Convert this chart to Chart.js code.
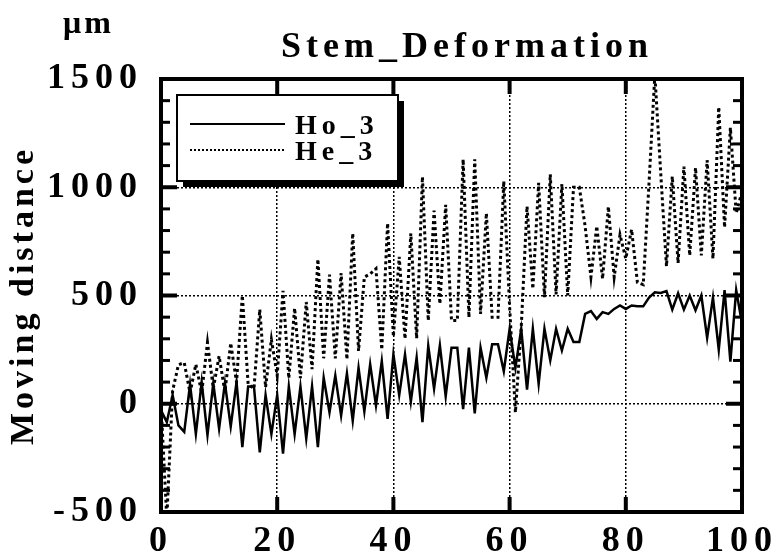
<!DOCTYPE html>
<html>
<head>
<meta charset="utf-8">
<title>Stem_Deformation</title>
<script src="https://cdn.jsdelivr.net/npm/chart.js@4.4.0/dist/chart.umd.min.js"></script>
<style>
  html, body { margin: 0; padding: 0; background: #fff; }
  #wrap { width: 774px; height: 555px; }
</style>
</head>
<body>
<div id="wrap"><canvas id="myChart" width="774" height="555"></canvas></div>
<script>
// dane
const xs = [0, 1, 2, 3, 4, 5, 6, 7, 8, 9, 10, 11, 12, 13, 14, 15, 16, 17, 18, 19,
  20, 21, 22, 23, 24, 25, 26, 27, 28, 29, 30, 31, 32, 33, 34, 35, 36, 37, 38, 39,
  40, 41, 42, 43, 44, 45, 46, 47, 48, 49, 50, 51, 52, 53, 54, 55, 56, 57, 58, 59,
  60, 61, 62, 63, 64, 65, 66, 67, 68, 69, 70, 71, 72, 73, 74, 75, 76, 77, 78, 79,
  80, 81, 82, 83, 84, 85, 86, 87, 88, 89, 90, 91, 92, 93, 94, 95, 96, 97, 98, 99, 100]

const ho3 = [-30, -85, 40, -100, -130, 90, -140, 100, -145, 95,
  -115, 95, -105, 100, -200, 80, 80, -225, 40, -140,
  40, -230, 80, -140, 80, -160, 80, -200, 120, -40,
  130, -55, 140, -78, 166, -35, 182, -8, 197, -70,
  228, 40, 228, 10, 213, -85, 267, 70, 270, 35,
  259, 259, -25, 259, -45, 259, 120, 275, 275, 150,
  345, 166, 345, 65, 346, 92, 346, 200, 346, 246,
  346, 285, 285, 415, 428, 392, 423, 415, 438, 454,
  438, 454, 450, 450, 490, 515, 512, 520, 435, 510,
  435, 500, 432, 500, 305, 490, 250, 525, 195, 525, 370]

const he3 = [0, -530, 60, 180, 190, 50, 182, 50, 283, 70,
  220, 55, 280, 100, 500, 90, 70, 435, 76, 297,
  130, 522, 118, 442, 118, 470, 160, 668, 210, 596,
  210, 604, 205, 787, 244, 585, 600, 624, 250, 834,
  310, 679, 300, 787, 302, 1048, 384, 892, 461, 919,
  384, 384, 1129, 399, 1129, 415, 880, 399, 399, 1028,
  450, -40, 352, 912, 531, 1020, 492, 1060, 505, 1015,
  500, 1000, 1000, 820, 585, 820, 577, 910, 585, 780,
  670, 805, 560, 550, 1020, 1520, 1070, 635, 1050, 650,
  1095, 685, 1090, 685, 1125, 670, 1370, 815, 1275, 880, 980]

const xTicks = [0, 20, 40, 60, 80, 100]
const yTicks = [-500, 0, 500, 1000, 1500]
const yMinorStep = 100

const FONT = "'Liberation Serif', 'Times New Roman', serif"
const TITLE = 'Stem_Deformation'
const UNIT = 'μm'

// odstępy między literami (canvas letterSpacing) osobno dla każdego tekstu
function withSpacing(obj, name, sp) {
  if (!obj || obj['_sp_' + name]) return
  const orig = obj[name]
  obj[name] = function (...args) {
    const c = this.ctx
    const prev = c.letterSpacing
    c.letterSpacing = sp
    const r = orig.apply(this, args)
    c.letterSpacing = prev
    return r
  }
  obj['_sp_' + name] = true
}

const spacing = {
  id: 'spacing',
  afterLayout(chart) {
    withSpacing(chart.scales.y, 'drawLabels', '6px')
    withSpacing(chart.scales.x, 'drawLabels', '6px')
    withSpacing(chart.scales.y, 'drawTitle', '4px')
  }
}

// ramka i kreski podziałki do środka
const frame = {
  id: 'frame',
  afterDatasetsDraw(chart) {
    const {ctx, chartArea: a, scales: {x, y}} = chart
    ctx.save()
    ctx.fillStyle = '#000'
    for (let v = y.min + yMinorStep; v < y.max; v += yMinorStep) {
      const py = y.getPixelForValue(v)
      const major = yTicks.includes(v)
      const len = major ? 16 : 9
      const th = major ? 4 : 3
      ctx.fillRect(a.left, py - th / 2, len, th)
      ctx.fillRect(a.right - len, py - th / 2, len, th)
    }
    xTicks.slice(1, -1).forEach(v => {
      const px = x.getPixelForValue(v)
      ctx.fillRect(px - 2, a.top, 4, 15)
      ctx.fillRect(px - 2, a.bottom - 15, 4, 15)
    })
    ctx.lineWidth = 4
    ctx.strokeStyle = '#000'
    ctx.strokeRect(a.left, a.top, a.right - a.left, a.bottom - a.top)
    ctx.restore()
  }
}

// tytuł, legenda w ramce z cieniem, jednostka
const boxLegend = {
  id: 'boxLegend',
  afterDraw(chart) {
    const {ctx, chartArea: a} = chart
    ctx.save()
    ctx.fillStyle = '#000'
    ctx.textBaseline = 'alphabetic'
    ctx.letterSpacing = '5px'
    ctx.font = 'bold 36px ' + FONT
    ctx.fillText(TITLE, a.left + 120, 57)

    ctx.letterSpacing = '3px'
    ctx.font = 'bold 32px ' + FONT
    ctx.fillText(UNIT, 63, 33)

    const bx = a.left + 16, by = a.top + 16, bw = 221, bh = 86
    ctx.fillRect(bx + 6, by + 6, bw, bh)
    ctx.fillStyle = '#fff'
    ctx.fillRect(bx, by, bw, bh)
    ctx.lineWidth = 2
    ctx.strokeStyle = '#000'
    ctx.strokeRect(bx, by, bw, bh)
    ctx.letterSpacing = '5px'
    ctx.font = 'bold 28px ' + FONT
    ctx.textBaseline = 'middle'
    chart.data.datasets.forEach((ds, i) => {
      const ly = by + 29 + i * 26
      ctx.beginPath()
      ctx.setLineDash(ds.borderDash ? [2, 2] : [])
      ctx.lineWidth = 2
      ctx.moveTo(bx + 13, ly)
      ctx.lineTo(bx + 108, ly)
      ctx.stroke()
      ctx.setLineDash([])
      ctx.fillStyle = '#000'
      ctx.fillText(ds.label, bx + 118, ly + 3)
    })
    ctx.restore()
  }
}

const gridColor = ends => c => (c.tick && ends.includes(c.tick.value)) ? 'rgba(0,0,0,0)' : '#000'
const tickFont = { family: FONT, size: 36, weight: 'bold' }

const ctx = document.getElementById('myChart').getContext('2d')
const chart = new Chart(ctx, {
  type: 'line',
  data: {
    datasets: [{
      label: 'Ho_3',
      data: xs.map((v, i) => ({x: v, y: ho3[i]})),
      borderColor: '#000',
      borderWidth: 2.5,
      pointRadius: 0,
      tension: 0
    }, {
      label: 'He_3',
      data: xs.map((v, i) => ({x: v, y: he3[i]})),
      borderColor: '#000',
      borderWidth: 3,
      borderDash: [3, 3],
      pointRadius: 0,
      tension: 0
    }]
  },
  options: {
    responsive: false,
    animation: false,
    layout: { padding: { left: 0, right: 32, top: 79, bottom: 0 } },
    plugins: {
      legend: { display: false },
      tooltip: { enabled: false },
      title: { display: false }
    },
    scales: {
      x: {
        type: 'linear',
        min: 0,
        max: 100,
        afterBuildTicks: s => { s.ticks = xTicks.map(v => ({value: v})) },
        afterFit: s => { s.height = 43; s.paddingLeft = 0; s.paddingRight = 0 },
        ticks: { color: '#000', font: tickFont, padding: 8, maxRotation: 0, autoSkip: false,
          callback: v => String(v) },
        grid: { color: gridColor([0, 100]), lineWidth: 1.5, drawTicks: false },
        border: { display: false, dash: [2, 2] }
      },
      y: {
        min: -500,
        max: 1500,
        afterBuildTicks: s => { s.ticks = yTicks.map(v => ({value: v})) },
        afterFit: s => { s.width = 161; s.paddingTop = 0; s.paddingBottom = 0 },
        ticks: { color: '#000', font: tickFont, padding: 18, callback: v => String(v) },
        grid: { color: gridColor([-500, 1500]), lineWidth: 1.5, drawTicks: false },
        border: { display: false, dash: [2, 2] },
        title: {
          display: true,
          text: 'Moving distance',
          color: '#000',
          font: { family: FONT, size: 34, weight: 'bold' },
          padding: { top: 4, bottom: 0 }
        }
      }
    }
  },
  plugins: [spacing, frame, boxLegend]
})
</script>
</body>
</html>
